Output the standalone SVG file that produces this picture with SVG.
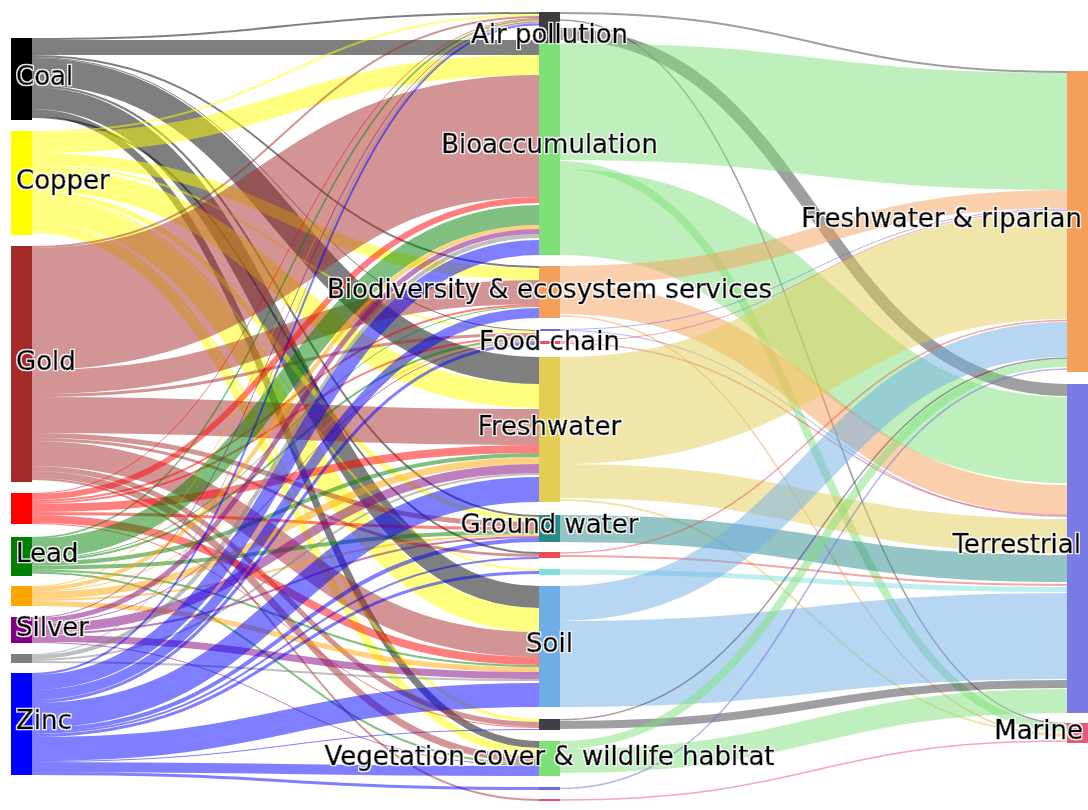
<svg xmlns="http://www.w3.org/2000/svg" width="1088" height="810" viewBox="0 0 1088 810">
<defs>
<filter id="halo" x="-5%" y="-20%" width="110%" height="140%">
<feMorphology in="SourceAlpha" operator="dilate" radius="1.3" result="d"/>
<feFlood flood-color="#fff"/>
<feComposite in2="d" operator="in" result="w"/>
<feMerge><feMergeNode in="w"/><feMergeNode in="SourceGraphic"/></feMerge>
</filter>
</defs>
<style>
.l{fill:none;stroke-opacity:.5}
.coal{stroke:#000}.copper{stroke:#ff0}.gold{stroke:#a52a2a}.red{stroke:#f00}.lead{stroke:#008000}.orange{stroke:#ffa500}.silver{stroke:#800080}.gray{stroke:#808080}.zinc{stroke:#00f}
.air{stroke:#404040}.bio{stroke:#7fe07a}.div{stroke:#f5a05a}.fcb{stroke:#6b6be0}.fcr{stroke:#e85060}.fw{stroke:#e2cd55}.gw{stroke:#2a8a8a}.sr{stroke:#e85050}.cy{stroke:#7fdede}.soil{stroke:#6eaee6}.dk{stroke:#404048}.veg{stroke:#7fe07a}.pk{stroke:#e85078}
text{font-family:"DejaVu Sans","Liberation Sans",sans-serif;font-size:26px;fill:#000;stroke:#000;stroke-width:0.7px;filter:url(#halo)}
.m{text-anchor:middle}.e{text-anchor:end}
</style>
<rect width="1088" height="810" fill="#fff"/>
<g id="links">
<path class="l coal" stroke-width="2" d="M32,39C285.5,39 285.5,13 539,13"/>
<path class="l coal" stroke-width="15" d="M32,47.5C285.5,47.5 285.5,47.5 539,47.5"/>
<path class="l coal" stroke-width="2" d="M32,56C285.5,56 285.5,267 539,267"/>
<path class="l coal" stroke-width="1" d="M32,57.5C285.5,57.5 285.5,330.5 539,330.5"/>
<path class="l coal" stroke-width="27" d="M32,71.5C285.5,71.5 285.5,370.5 539,370.5"/>
<path class="l coal" stroke-width="2" d="M32,86C285.5,86 285.5,516 539,516"/>
<path class="l coal" stroke-width="22" d="M32,98C285.5,98 285.5,597 539,597"/>
<path class="l coal" stroke-width="7" d="M32,112.5C285.5,112.5 285.5,744.5 539,744.5"/>
<path class="l coal" stroke-width="2" d="M32,117C285.5,117 285.5,553 539,553"/>

<path class="l copper" stroke-width="2" d="M32,132C285.5,132 285.5,15 539,15"/>
<path class="l copper" stroke-width="20" d="M32,143C285.5,143 285.5,65 539,65"/>
<path class="l copper" stroke-width="12" d="M32,159C285.5,159 285.5,274 539,274"/>
<path class="l copper" stroke-width="2" d="M32,166C285.5,166 285.5,332 539,332"/>
<path class="l copper" stroke-width="24" d="M32,179C285.5,179 285.5,396 539,396"/>
<path class="l copper" stroke-width="5" d="M32,193.5C285.5,193.5 285.5,519.5 539,519.5"/>
<path class="l copper" stroke-width="2" d="M32,197C285.5,197 285.5,570 539,570"/>
<path class="l copper" stroke-width="24" d="M32,210C285.5,210 285.5,620 539,620"/>
<path class="l copper" stroke-width="3" d="M32,223.5C285.5,223.5 285.5,720.5 539,720.5"/>
<path class="l copper" stroke-width="8" d="M32,229C285.5,229 285.5,752 539,752"/>

<path class="l gold" stroke-width="2" d="M32,247C285.5,247 285.5,17 539,17"/>
<path class="l gold" stroke-width="122" d="M32,309C285.5,309 285.5,136 539,136"/>
<path class="l gold" stroke-width="24" d="M32,382C285.5,382 285.5,292 539,292"/>
<path class="l gold" stroke-width="3" d="M32,395.5C285.5,395.5 285.5,334.5 539,334.5"/>
<path class="l gold" stroke-width="36" d="M32,415C285.5,415 285.5,427 539,427"/>
<path class="l gold" stroke-width="5" d="M32,435.5C285.5,435.5 285.5,524.5 539,524.5"/>
<path class="l gold" stroke-width="3" d="M32,439.5C285.5,439.5 285.5,555.5 539,555.5"/>
<path class="l gold" stroke-width="25" d="M32,453.5C285.5,453.5 285.5,644.5 539,644.5"/>
<path class="l gold" stroke-width="5" d="M32,468.5C285.5,468.5 285.5,724.5 539,724.5"/>
<path class="l gold" stroke-width="7" d="M32,474.5C285.5,474.5 285.5,759.5 539,759.5"/>
<path class="l gold" stroke-width="2" d="M32,479C285.5,479 285.5,800 539,800"/>

<path class="l red" stroke-width="1" d="M32,493.5C285.5,493.5 285.5,18.5 539,18.5"/>
<path class="l red" stroke-width="6" d="M32,497C285.5,497 285.5,200 539,200"/>
<path class="l red" stroke-width="2" d="M32,501C285.5,501 285.5,305 539,305"/>
<path class="l red" stroke-width="2" d="M32,503C285.5,503 285.5,337 539,337"/>
<path class="l red" stroke-width="8" d="M32,508C285.5,508 285.5,449 539,449"/>
<path class="l red" stroke-width="3" d="M32,513.5C285.5,513.5 285.5,528.5 539,528.5"/>
<path class="l red" stroke-width="8" d="M32,519C285.5,519 285.5,661 539,661"/>
<path class="l red" stroke-width="1" d="M32,523.5C285.5,523.5 285.5,727.5 539,727.5"/>

<path class="l lead" stroke-width="1.5" d="M32,537.75C285.5,537.75 285.5,19.75 539,19.75"/>
<path class="l lead" stroke-width="20" d="M32,548.5C285.5,548.5 285.5,215 539,215"/>
<path class="l lead" stroke-width="1" d="M32,559C285.5,559 285.5,306.5 539,306.5"/>
<path class="l lead" stroke-width="2" d="M32,560.5C285.5,560.5 285.5,339 539,339"/>
<path class="l lead" stroke-width="4" d="M32,563.5C285.5,563.5 285.5,455 539,455"/>
<path class="l lead" stroke-width="4" d="M32,567.5C285.5,567.5 285.5,532 539,532"/>
<path class="l lead" stroke-width="2" d="M32,570.5C285.5,570.5 285.5,666 539,666"/>
<path class="l lead" stroke-width="2" d="M32,572.5C285.5,572.5 285.5,764 539,764"/>

<path class="l orange" stroke-width="1" d="M32,586.5C285.5,586.5 285.5,21 539,21"/>
<path class="l orange" stroke-width="4" d="M32,589C285.5,589 285.5,227 539,227"/>
<path class="l orange" stroke-width="1" d="M32,591.5C285.5,591.5 285.5,340.5 539,340.5"/>
<path class="l orange" stroke-width="7" d="M32,595.5C285.5,595.5 285.5,460.5 539,460.5"/>
<path class="l orange" stroke-width="2" d="M32,600C285.5,600 285.5,535 539,535"/>
<path class="l orange" stroke-width="5" d="M32,603.5C285.5,603.5 285.5,669.5 539,669.5"/>

<path class="l silver" stroke-width="1" d="M32,617.5C285.5,617.5 285.5,22 539,22"/>
<path class="l silver" stroke-width="5" d="M32,620.5C285.5,620.5 285.5,231.5 539,231.5"/>
<path class="l silver" stroke-width="1" d="M32,623.5C285.5,623.5 285.5,341.5 539,341.5"/>
<path class="l silver" stroke-width="9" d="M32,628.5C285.5,628.5 285.5,468.5 539,468.5"/>
<path class="l silver" stroke-width="2" d="M32,634C285.5,634 285.5,537 539,537"/>
<path class="l silver" stroke-width="7" d="M32,638.5C285.5,638.5 285.5,675.5 539,675.5"/>
<path class="l silver" stroke-width="1" d="M32,642.5C285.5,642.5 285.5,765.5 539,765.5"/>

<path class="l gray" stroke-width="1" d="M32,654.5C285.5,654.5 285.5,23 539,23"/>
<path class="l gray" stroke-width="4" d="M32,657C285.5,657 285.5,236 539,236"/>
<path class="l gray" stroke-width="2" d="M32,660C285.5,660 285.5,474 539,474"/>
<path class="l gray" stroke-width="2" d="M32,662C285.5,662 285.5,680 539,680"/>

<path class="l zinc" stroke-width="2" d="M32,674C285.5,674 285.5,24.5 539,24.5"/>
<path class="l zinc" stroke-width="15" d="M32,682.5C285.5,682.5 285.5,247.5 539,247.5"/>
<path class="l zinc" stroke-width="10" d="M32,695C285.5,695 285.5,313 539,313"/>
<path class="l zinc" stroke-width="3" d="M32,701.5C285.5,701.5 285.5,343.5 539,343.5"/>
<path class="l zinc" stroke-width="25" d="M32,715.5C285.5,715.5 285.5,489.5 539,489.5"/>
<path class="l zinc" stroke-width="4" d="M32,730C285.5,730 285.5,540 539,540"/>
<path class="l zinc" stroke-width="2" d="M32,733C285.5,733 285.5,558 539,558"/>
<path class="l zinc" stroke-width="3" d="M32,735.5C285.5,735.5 285.5,572.5 539,572.5"/>
<path class="l zinc" stroke-width="24" d="M32,749C285.5,749 285.5,695 539,695"/>
<path class="l zinc" stroke-width="1" d="M32,761.5C285.5,761.5 285.5,729.5 539,729.5"/>
<path class="l zinc" stroke-width="10" d="M32,767C285.5,767 285.5,771 539,771"/>
<path class="l zinc" stroke-width="3" d="M32,773.5C285.5,773.5 285.5,788.5 539,788.5"/>

<path class="l air" stroke-width="2" d="M560,13C813.5,13 813.5,72 1067,72"/>
<path class="l air" stroke-width="1.5" d="M560,20C813.5,20 813.5,723.75 1067,723.75"/>
<path class="l air" stroke-width="12" d="M560,34C813.5,34 813.5,390 1067,390"/>
<path class="l bio" stroke-width="117" d="M560,101.5C813.5,101.5 813.5,131.5 1067,131.5"/>
<path class="l bio" stroke-width="8" d="M560,165C813.5,165 813.5,728 1067,728"/>
<path class="l bio" stroke-width="86" d="M560,212C813.5,212 813.5,440 1067,440"/>
<path class="l div" stroke-width="18" d="M560,275C813.5,275 813.5,199 1067,199"/>
<path class="l div" stroke-width="30" d="M560,299C813.5,299 813.5,500 1067,500"/>
<path class="l div" stroke-width="1.5" d="M560,316C813.5,316 813.5,736 1067,736"/>
<path class="l fcb" stroke-width="1" d="M560,329.5C813.5,329.5 813.5,209 1067,209"/>
<path class="l fcb" stroke-width="1" d="M560,330.5C813.5,330.5 813.5,516.5 1067,516.5"/>
<path class="l fcr" stroke-width="1" d="M560,341.5C813.5,341.5 813.5,210.5 1067,210.5"/>
<path class="l fcr" stroke-width="1.5" d="M560,343C813.5,343 813.5,515.5 1067,515.5"/>
<path class="l fw" stroke-width="107" d="M560,410.5C813.5,410.5 813.5,265.5 1067,265.5"/>
<path class="l fw" stroke-width="34" d="M560,481C813.5,481 813.5,536 1067,536"/>
<path class="l fw" stroke-width="2" d="M560,500C813.5,500 813.5,734 1067,734"/>
<path class="l gw" stroke-width="27" d="M560,528.5C813.5,528.5 813.5,568.5 1067,568.5"/>
<path class="l sr" stroke-width="1.5" d="M560,553C813.5,553 813.5,320.5 1067,320.5"/>
<path class="l sr" stroke-width="2" d="M560,556C813.5,556 813.5,585 1067,585"/>
<path class="l cy" stroke-width="5" d="M560,572C813.5,572 813.5,589.5 1067,589.5"/>
<path class="l soil" stroke-width="35" d="M560,603.5C813.5,603.5 813.5,339.5 1067,339.5"/>
<path class="l soil" stroke-width="86" d="M560,664C813.5,664 813.5,636 1067,636"/>
<path class="l dk" stroke-width="1.5" d="M560,719.75C813.5,719.75 813.5,358.25 1067,358.25"/>
<path class="l dk" stroke-width="8" d="M560,725C813.5,725 813.5,684 1067,684"/>
<path class="l veg" stroke-width="8" d="M560,745C813.5,745 813.5,363 1067,363"/>
<path class="l veg" stroke-width="24" d="M560,761C813.5,761 813.5,701 1067,701"/>
<path class="l fcb" stroke-width="1.5" d="M560,788.5C813.5,788.5 813.5,369 1067,369"/>
<path class="l pk" stroke-width="1.5" d="M560,800C813.5,800 813.5,741 1067,741"/>
</g>
<g id="node-coal"><rect x="11" y="38" width="21" height="82" fill="#000"/><text x="16" y="85">Coal</text></g>
<g id="node-copper"><rect x="11" y="131" width="21" height="104" fill="#ff0"/><text x="16" y="189">Copper</text></g>
<g id="node-gold"><rect x="11" y="246" width="21" height="236" fill="#a52a2a"/><text x="16" y="370">Gold</text></g>
<g id="node-red"><rect x="11" y="493" width="21" height="31" fill="#f00"/></g>
<g id="node-lead"><rect x="11" y="537" width="21" height="39" fill="#008000"/><text x="16" y="562">Lead</text></g>
<g id="node-orange"><rect x="11" y="586" width="21" height="20" fill="#ffa500"/></g>
<g id="node-silver"><rect x="11" y="617" width="21" height="26" fill="#800080"/><text x="16" y="636">Silver</text></g>
<g id="node-gray"><rect x="11" y="654" width="21" height="9" fill="#808080"/></g>
<g id="node-zinc"><rect x="11" y="673" width="21" height="102" fill="#00f"/><text x="16" y="729">Zinc</text></g>

<g id="node-air-pollution"><rect x="539" y="12" width="21" height="31" fill="#3e3e3e"/></g>
<g id="node-bioaccumulation"><rect x="539" y="43" width="21" height="212" fill="#7fe07a"/></g>
<g id="node-biodiversity"><rect x="539" y="266" width="21" height="52" fill="#f5a05a"/></g>
<g id="node-food-chain"><rect x="539" y="329" width="21" height="2" fill="#6b6be0"/><rect x="539" y="341" width="21" height="3" fill="#e85060"/></g>
<g id="node-freshwater"><rect x="539" y="357" width="21" height="145" fill="#e2cd55"/></g>
<g id="node-ground-water"><rect x="539" y="515" width="21" height="27" fill="#2a8a8a"/></g>
<g id="node-small-red"><rect x="539" y="552" width="21" height="6" fill="#e85050"/></g>
<g id="node-cyan"><rect x="539" y="569" width="21" height="6" fill="#7fdede"/></g>
<g id="node-soil"><rect x="539" y="586" width="21" height="121" fill="#6eaee6"/></g>
<g id="node-dark"><rect x="539" y="719" width="21" height="11" fill="#404048"/></g>
<g id="node-vegetation"><rect x="539" y="741" width="21" height="35" fill="#7fe07a"/></g>
<g id="node-small-blue"><rect x="539" y="787" width="21" height="3" fill="#6b6be0"/></g>
<g id="node-small-pink"><rect x="539" y="799" width="21" height="2" fill="#e85078"/></g>

<g id="node-freshwater-riparian"><rect x="1067" y="71" width="21" height="301" fill="#f5a05a"/></g>
<g id="node-terrestrial"><rect x="1067" y="384" width="21" height="329" fill="#7b7be6"/></g>
<g id="node-marine"><rect x="1067" y="723" width="21" height="20" fill="#e55a78"/></g>

<g id="labels">
<text class="m" x="549.5" y="43">Air pollution</text>
<text class="m" x="549.5" y="153">Bioaccumulation</text>
<text class="m" x="549.5" y="298">Biodiversity &amp; ecosystem services</text>
<text class="m" x="549.5" y="350">Food chain</text>
<text class="m" x="549.5" y="435">Freshwater</text>
<text class="m" x="549.5" y="533">Ground water</text>
<text class="m" x="549.5" y="652">Soil</text>
<text class="m" x="549.5" y="765">Vegetation cover &amp; wildlife habitat</text>
<text class="e" x="1082" y="227">Freshwater &amp; riparian</text>
<text class="e" x="1081" y="553">Terrestrial</text>
<text class="e" x="1083" y="739">Marine</text>
</g>
</svg>
